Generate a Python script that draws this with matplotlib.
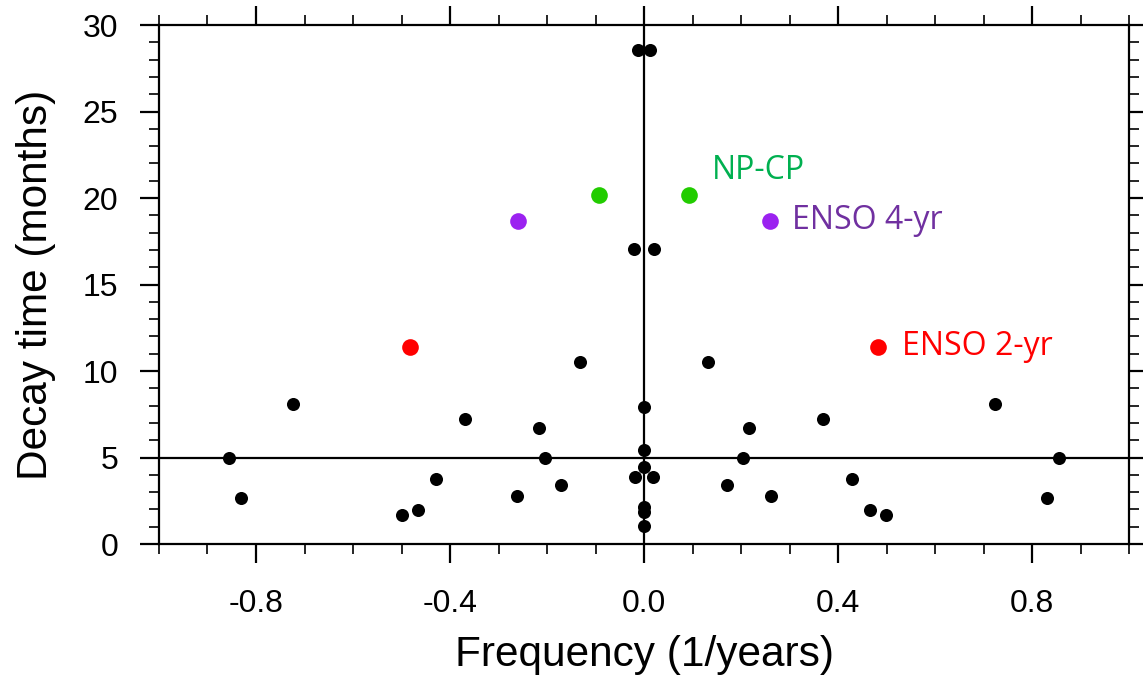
import numpy as np
import matplotlib.pyplot as plt
from matplotlib.ticker import MultipleLocator, FixedLocator

plt.rcParams['font.family'] = ['Liberation Sans', 'DejaVu Sans']

# eigenmodes: frequency (1/years) and decay time (months)
freq = [-0.856, -0.831, -0.724, -0.499, -0.466, -0.429, -0.370, -0.261,
        -0.216, -0.204, -0.132, -0.171, -0.019, -0.020, -0.012,
        0.0, 0.0, 0.0, 0.0, 0.0, 0.0,
        0.012, 0.019, 0.020, 0.132, 0.171, 0.204, 0.216, 0.261,
        0.370, 0.429, 0.466, 0.499, 0.724, 0.831, 0.856]
decay = [4.97, 2.66, 8.1, 1.68, 1.95, 3.78, 7.22, 2.77,
         6.7, 4.98, 10.55, 3.42, 3.88, 17.05, 28.55,
         7.9, 5.45, 4.48, 2.14, 1.86, 1.06,
         28.55, 3.88, 17.05, 10.55, 3.42, 4.98, 6.7, 2.77,
         7.22, 3.78, 1.95, 1.68, 8.1, 2.66, 4.97]

# highlighted modes
enso2_f, enso2_d = [-0.482, 0.482], [11.4, 11.4]
enso4_f, enso4_d = [-0.26, 0.26], [18.7, 18.7]
npcp_f, npcp_d = [-0.093, 0.093], [20.15, 20.15]

fig = plt.figure(figsize=(11.43, 6.82), dpi=100)
ax = fig.add_axes([0.1391, 0.2023, 0.8487, 0.7610])

ax.axvline(0, color='black', lw=1.6, zorder=1)
ax.axhline(5, color='black', lw=1.6, zorder=1)

ax.plot(freq, decay, 'o', color='black', ms=9.4, mec='none', zorder=3)
ax.plot(enso2_f, enso2_d, 'o', color='#ff0000', ms=12, mec='none', zorder=4)
ax.plot(enso4_f, enso4_d, 'o', color='#9b22f0', ms=12, mec='none', zorder=4)
ax.plot(npcp_f, npcp_d, 'o', color='#22cc00', ms=12, mec='none', zorder=4)

lab_font = ['Open Sans', 'DejaVu Sans']
ax.text(0.140, 21.6, 'NP-CP', color='#00b050', fontsize=23, va='center',
        family=lab_font)
ax.text(0.305, 18.7, 'ENSO 4-yr', color='#7030a0', fontsize=23, va='center',
        family=lab_font)
ax.text(0.532, 11.4, 'ENSO 2-yr', color='#ff0000', fontsize=23, va='center',
        family=lab_font)

ax.set_xlim(-1.0, 1.0)
ax.set_ylim(0, 30)
ax.xaxis.set_major_locator(FixedLocator([-0.8, -0.4, 0.0, 0.4, 0.8]))
ax.xaxis.set_minor_locator(MultipleLocator(0.1))
ax.yaxis.set_major_locator(MultipleLocator(5))
ax.yaxis.set_minor_locator(MultipleLocator(1))
ax.set_xticklabels(['-0.8', '-0.4', '0.0', '0.4', '0.8'])

ax.tick_params(which='both', direction='out', top=True, right=True,
               labelsize=23)
ax.tick_params(which='major', length=13.5, width=1.6)
ax.tick_params(which='minor', length=7, width=1.2)
ax.tick_params(axis='x', which='major', pad=19)
ax.tick_params(axis='y', which='major', pad=16)
for s in ax.spines.values():
    s.set_linewidth(1.6)

ax.set_xlabel('Frequency (1/years)', fontsize=30.5)
ax.set_ylabel('Decay time (months)', fontsize=30.5)
ax.xaxis.set_label_coords(0.5, -0.176)
ax.yaxis.set_label_coords(-0.106, 0.5)

fig.savefig('out.png', dpi=100)
